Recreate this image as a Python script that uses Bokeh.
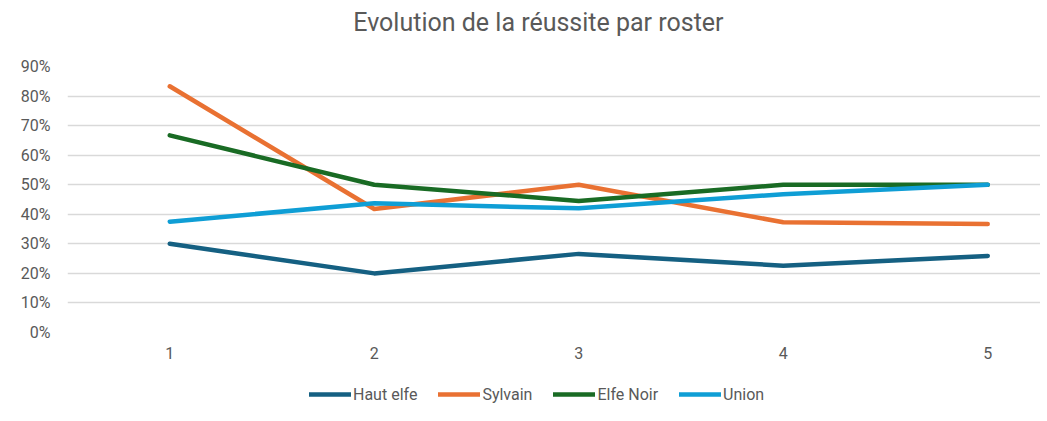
from bokeh.plotting import figure
from bokeh.layouts import column
from bokeh.models import (ColumnDataSource, FixedTicker, NumeralTickFormatter,
                          Legend, LegendItem, Range1d, Label)
from bokeh.embed import file_html
from bokeh.resources import INLINE

rounds = [1, 2, 3, 4, 5]
haut_elfe = [0.30, 0.20, 0.266, 0.226, 0.259]
sylvain = [0.833, 0.418, 0.50, 0.373, 0.367]
elfe_noir = [0.667, 0.50, 0.445, 0.50, 0.50]
union = [0.375, 0.437, 0.42, 0.468, 0.50]

series_names = ["Haut elfe", "Sylvain", "Elfe Noir", "Union"]
series_values = [haut_elfe, sylvain, elfe_noir, union]
colors = ["#156082", "#E97132", "#196B24", "#0F9ED5"]
title_text = "Evolution de la réussite par roster"

FONT = "Roboto"
TXT = "#595959"
W = 1040

# title strip
tf = figure(width=W, height=44, output_backend="svg", toolbar_location=None,
            x_range=Range1d(0, 1), y_range=Range1d(0, 1),
            min_border=0, outline_line_color=None)
tf.axis.visible = False
tf.grid.visible = False
tf.add_layout(Label(x=0.484, y=0.5, text=title_text, text_align="center",
                    text_baseline="middle", text_font=FONT,
                    text_font_size="25px", text_color=TXT))

# main chart
p = figure(width=W, height=321, output_backend="svg", toolbar_location=None,
           x_range=Range1d(0.5, 5.258), y_range=Range1d(0, 0.9),
           min_border_left=67, min_border_right=0, min_border_top=22,
           min_border_bottom=33, outline_line_color=None)

for name, vals, c in zip(series_names, series_values, colors):
    src = ColumnDataSource(dict(x=rounds, y=vals))
    p.line("x", "y", source=src, line_color=c, line_width=4.5,
           line_cap="round", line_join="round")

p.xgrid.grid_line_color = None
p.ygrid.grid_line_color = "#D9D9D9"
p.ygrid.grid_line_width = 1.3

p.yaxis.ticker = FixedTicker(ticks=[i / 10 for i in range(10)])
p.yaxis.formatter = NumeralTickFormatter(format="0%")
p.xaxis.ticker = FixedTicker(ticks=rounds)

for ax in (p.xaxis[0], p.yaxis[0]):
    ax.axis_line_color = None
    ax.major_tick_line_color = None
    ax.minor_tick_line_color = None
    ax.major_label_text_font = FONT
    ax.major_label_text_font_size = "16px"
    ax.major_label_text_color = TXT
p.yaxis.major_label_standoff = 11
p.xaxis.major_label_standoff = 8

# legend strip below the chart (series drawn out of view, only legend shows)
lg = figure(width=W, height=50, output_backend="svg", toolbar_location=None,
            x_range=Range1d(100, 101), y_range=Range1d(100, 101),
            min_border=0, outline_line_color=None)
lg.axis.visible = False
lg.grid.visible = False
items = []
for name, vals, c in zip(series_names, series_values, colors):
    src = ColumnDataSource(dict(x=rounds, y=vals))
    r = lg.line("x", "y", source=src, line_color=c, line_width=4.5,
                line_cap="round")
    items.append(LegendItem(label=name, renderers=[r]))
legend = Legend(items=items, orientation="horizontal", location=(242, 11),
                label_text_font=FONT, label_text_font_size="16px",
                label_text_color=TXT, glyph_width=42, label_standoff=2,
                spacing=21, border_line_color=None, background_fill_alpha=0,
                margin=0, padding=4)
lg.add_layout(legend, "center")

open("out.html", "w").write(file_html(column(tf, p, lg, spacing=0), INLINE))
